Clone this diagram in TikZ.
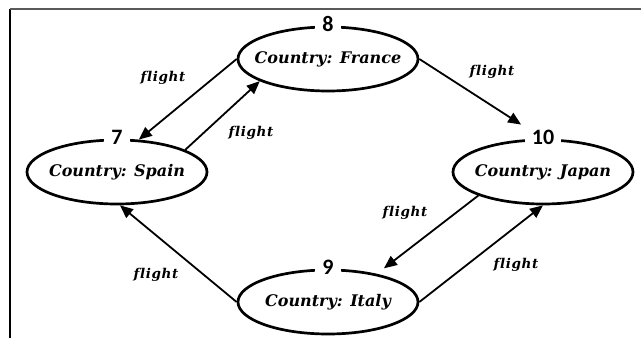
\documentclass[tikz,border=0pt]{standalone}
\usepackage{fontspec}
\setmainfont[Ligatures=NoCommon]{DejaVu Serif}
\newfontfamily\numfont{Carlito}
\newfontfamily\tagfont[Ligatures=NoCommon,LetterSpace=5]{DejaVu Serif}
\usetikzlibrary{arrows.meta,shapes.geometric}
% country names are set in a zero-width box so the ellipse keeps its fixed size
\newcommand{\cname}[1]{\makebox[0pt]{#1}}
\begin{document}
\begin{tikzpicture}[x=1pt,y=-1pt,
  country/.style={draw, line width=2.7pt, ellipse, minimum width=180pt,
    minimum height=64pt, inner sep=0pt,
    font=\fontsize{16}{18}\selectfont\bfseries\itshape},
  idlabel/.style={fill=white, inner xsep=7pt, inner ysep=1pt,
    font=\numfont\fontsize{22}{24}\selectfont\bfseries},
  link/.style={line width=1.8pt, -{Triangle[length=13pt,width=11pt]}},
  tag/.style={font=\tagfont\fontsize{13.5}{15}\selectfont\bfseries\itshape}]

\useasboundingbox (0,0) rectangle (641,338);

% page frame
\draw[line width=1.2pt] (10,338) -- (10,9);
\draw[line width=1.2pt, black!65] (10,9) -- (641,9);

% countries
\node[country] (france) at (328,59)  {\cname{Country: France}};
\node[country] (spain)  at (117,172) {\cname{Country: Spain}};
\node[country] (japan)  at (543,172) {\cname{Country: Japan}};
\node[country] (italy)  at (328,302) {\cname{Country: Italy}};

% flights
\draw[link] (france.west) -- (spain.56);
\draw[link] (spain.18) -- (france.198);
\draw[link, shorten >=26pt] (france.east) -- (japan.north);
\draw[link, shorten >=9pt] (japan.200) -- (italy.30);
\draw[link] (italy.east) -- (japan.south);
\draw[link] (italy.west) -- (spain.275);

% identifiers
\node[idlabel, yshift=1.5pt] (id8)  at (france.north) {8};
\node[idlabel, yshift=1.5pt] (id7)  at (spain.north)  {7};
\node[idlabel, yshift=1.5pt] (id10) at (japan.north)  {10};
\node[idlabel, yshift=1.5pt] (id9)  at (italy.north)  {9};

% edge labels
\node[tag] (t1) at (163,78)  {flight};
\node[tag] (t2) at (251,133) {flight};
\node[tag] (t3) at (492,72)  {flight};
\node[tag] (t4) at (405,213) {flight};
\node[tag] (t5) at (156,275) {flight};
\node[tag] (t6) at (516,265) {flight};
\end{tikzpicture}
\end{document}
